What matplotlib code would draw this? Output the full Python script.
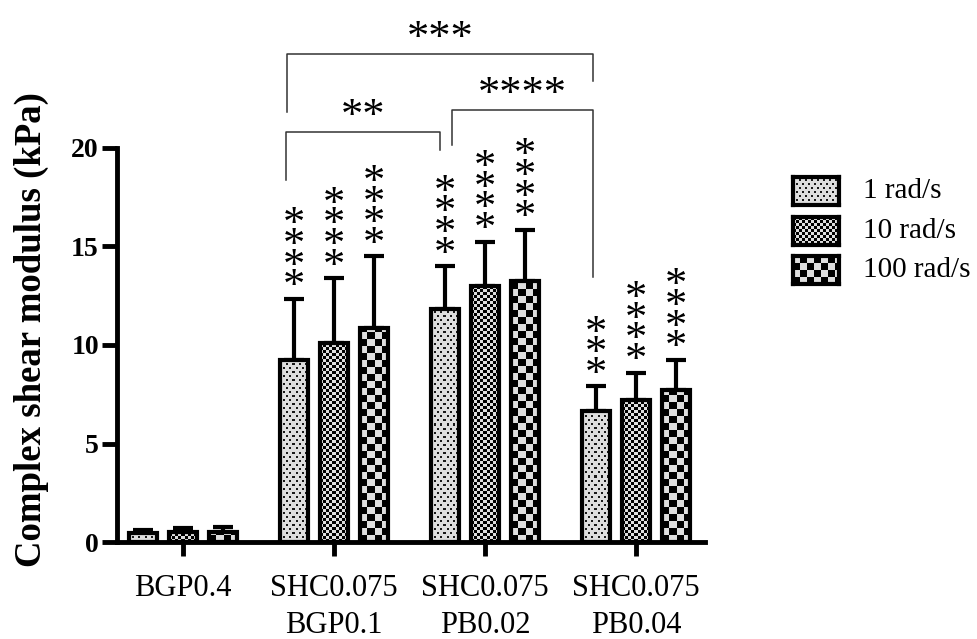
import numpy as np
import matplotlib
matplotlib.use('Agg')
import matplotlib.pyplot as plt

plt.rcParams['font.family'] = ['Liberation Serif', 'DejaVu Serif']

# ---- data ----
groups = ['BGP0.4', 'SHC0.075\nBGP0.1', 'SHC0.075\nPB0.02', 'SHC0.075\nPB0.04']
freqs = ['1 rad/s', '10 rad/s', '100 rad/s']
means = [
    [0.45, 9.25, 11.85, 6.65],   # 1 rad/s
    [0.50, 10.1, 13.0, 7.2],     # 10 rad/s
    [0.50, 10.85, 13.25, 7.7],   # 100 rad/s
]
sds = [
    [0.15, 3.1, 2.15, 1.25],
    [0.20, 3.3, 2.25, 1.4],
    [0.25, 3.65, 2.6, 1.55],
]
# significance vs BGP0.4 (number of asterisks above each bar)
stars = [
    [0, 4, 4, 3],
    [0, 4, 4, 4],
    [0, 4, 4, 4],
]
# pairwise comparisons: (x left, x right, top, left end, right end, label)
brackets = [
    (0.689, 2.715, 24.77, 21.83, 23.4, '***'),
    (0.682, 1.702, 20.81, 18.4, 19.9, '**'),
    (1.781, 2.715, 21.93, 20.15, 13.45, '****'),
]
STAR_FONT = dict(family=['Liberation Serif'], fontsize=32)

# ---- fill textures (pixel based) ----
LIGHT = 0.87

def tex_dots(ny, nx):
    yy, xx = np.indices((ny, nx))
    img = np.full((ny, nx), LIGHT)
    m = ((yy % 8 < 2) & (xx % 6 < 2)) | (((yy + 4) % 8 < 2) & ((xx + 3) % 6 < 2))
    img[m] = 0.1
    return img

def tex_checker(ny, nx, s):
    yy, xx = np.indices((ny, nx))
    return np.where(((yy // s) + (xx // s)) % 2 == 0, 0.0, LIGHT)

textures = [tex_dots,
            lambda ny, nx: tex_checker(ny, nx, 3),
            lambda ny, nx: tex_checker(ny, nx, 7)]

# ---- figure ----
fig = plt.figure(figsize=(9.77, 6.39), dpi=100)
ax = fig.add_axes([117 / 977, 97 / 639, 588 / 977, 394 / 639])

x = np.arange(len(groups))
offs = [-0.265, 0.0, 0.265]
bw = 0.18
xlim = (-0.437, 3.457)
ylim = (0, 20)
ax.set_xlim(*xlim)
ax.set_ylim(*ylim)

for j in range(3):
    xs = x + offs[j]
    ax.errorbar(xs, means[j], yerr=[np.zeros(len(x)), sds[j]], fmt='none',
                ecolor='black', elinewidth=3, capsize=7, capthick=3, zorder=2)
    bars = ax.bar(xs, means[j], bw, facecolor='none', edgecolor='black',
                  linewidth=3, zorder=4)
    for b in bars:
        x0, y0 = b.get_x(), b.get_y()
        x1, y1 = x0 + b.get_width(), y0 + b.get_height()
        (px0, py0), (px1, py1) = ax.transData.transform([(x0, y0), (x1, y1)])
        nx = max(int(round(px1 - px0)), 1)
        ny = max(int(round(py1 - py0)), 1)
        im = ax.imshow(textures[j](ny, nx), cmap='gray', vmin=0, vmax=1,
                       extent=(x0, x1, y0, y1), origin='lower',
                       interpolation='nearest', aspect='auto', zorder=3)
        im.set_clip_path(b)
    # stacked asterisks above the error bars
    for xi, v, e, n in zip(xs, means[j], sds[j], stars[j]):
        for k in range(n):
            ax.annotate('*', xy=(xi, v + e), xytext=(0, 8.2 + 14.9 * k),
                        textcoords='offset points', ha='center', va='center',
                        annotation_clip=False, **STAR_FONT)

ax.set_xlim(*xlim)
ax.set_ylim(*ylim)

# comparison brackets above the axes
for xl, xr, top, yl, yr, lab in brackets:
    ax.plot([xl, xl, xr, xr], [yl, top, top, yr], color='#333333',
            linewidth=1.1, clip_on=False)
    ax.annotate(lab, xy=((xl + xr) / 2, top), xytext=(0, 11),
                textcoords='offset points', ha='center', va='center',
                annotation_clip=False, **STAR_FONT)

# axes styling
for s in ['top', 'right']:
    ax.spines[s].set_visible(False)
ax.spines['left'].set_linewidth(3.5)
ax.spines['bottom'].set_linewidth(3.5)
ax.spines['left'].set_bounds(0, 20)
ax.set_yticks([0, 5, 10, 15, 20])
ax.set_yticklabels(['0', '5', '10', '15', '20'], fontsize=20, fontweight='bold')
ax.set_xticks(x)
ax.set_xticklabels(groups, fontsize=22)
for t in ax.get_xticklabels():
    t.set_linespacing(1.35)
ax.tick_params(axis='y', length=11, width=3.5, pad=2)
ax.tick_params(axis='x', length=10, width=3.5, pad=13)
ax.set_ylabel('Complex shear modulus (kPa)', fontsize=26.5, fontweight='bold')
ax.yaxis.set_label_coords(-0.115, 0.54)

# legend swatches
sw_w, sw_h = 46, 28
for j, (lab, yc) in enumerate(zip(freqs, [191, 230.5, 270])):
    lax = fig.add_axes([793 / 977, (639 - yc - sw_h / 2) / 639, sw_w / 977, sw_h / 639])
    lax.imshow(textures[j](sw_h, sw_w), cmap='gray', vmin=0, vmax=1,
               interpolation='nearest', aspect='auto', origin='lower')
    lax.set_xticks([])
    lax.set_yticks([])
    for s in lax.spines.values():
        s.set_linewidth(3)
    fig.text(863 / 977, (639 - yc) / 639, lab, fontsize=21, va='center', ha='left')

fig.savefig('out.png', dpi=100)
